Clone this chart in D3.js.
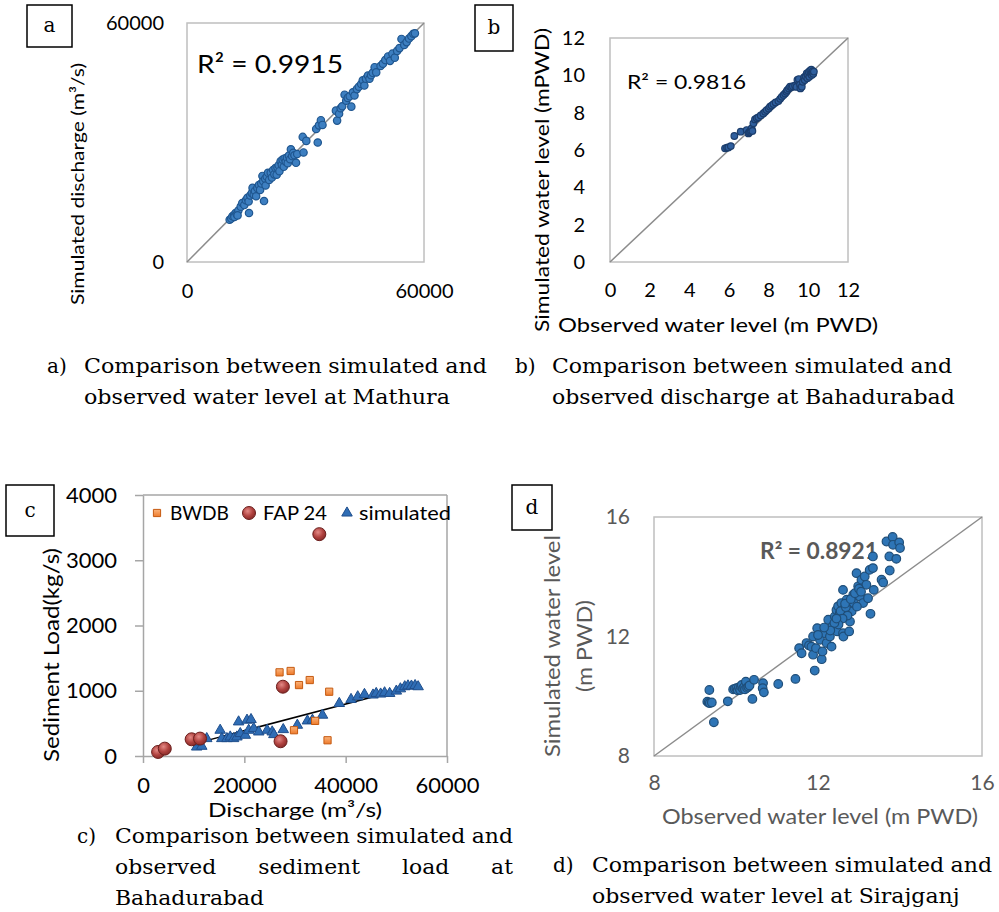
<!DOCTYPE html>
<html>
<head>
<meta charset="utf-8">
<title>Model comparison</title>
<script src="https://cdn.jsdelivr.net/npm/d3@7"></script>
<style>
body { margin: 0; background: #fff; }
text { font-family: Lato, "Open Sans", sans-serif; }
.cap { font-family: "DejaVu Serif", "Liberation Serif", serif; font-size: 20px; fill: #000; }
.tag { font-family: "DejaVu Serif", "Liberation Serif", serif; font-size: 20px; }
</style>
</head>
<body>
<script>

// ---- a) Mathura discharge [observed, simulated]
var dischargeA = [
  [10800,10600],[11200,10900],[11500,11500],[11900,11800],[12300,12300],[12000,11300],[12600,12000],
  [13000,12900],[12800,11700],[15700,12300],[13600,13900],[14000,14800],[14500,14300],[14900,15500],
  [15300,16100],[15600,15200],[16000,16700],[16400,17300],[16600,18600],[16900,16900],[17200,17800],
  [17500,16500],[17800,18600],[18200,19300],[18500,18100],[18800,19700],[19100,21600],[19300,20300],
  [19500,15300],[19800,20900],[19900,19200],[20200,21400],[20500,22400],[20800,20600],[21200,22400],
  [21500,21200],[21800,23100],[22100,22000],[22400,23600],[22700,21900],[22900,23700],[23200,24300],
  [23400,22800],[23700,25300],[24000,24400],[24200,25700],[24500,23900],[24700,26000],[25000,25200],
  [25300,26200],[25500,24800],[25800,26700],[26100,25800],[26300,28300],[26600,26600],[26900,27400],
  [27200,26800],[27600,24900],[27900,27100],[29300,31400],[29500,27500],[30200,30400],[32700,33400],
  [33100,30000],[33400,34300],[33900,35600],[34300,34400],[37700,38000],[38000,35500],[38500,37200],
  [38900,38600],[39300,39100],[39900,42000],[40300,40500],[40700,41200],[41200,41600],[41600,39000],
  [42000,42600],[42400,41800],[43000,43400],[43500,44000],[44100,44700],[44500,45600],[44900,44300],
  [45300,46000],[45800,46800],[46200,46000],[46600,46900],[47000,47500],[47500,48900],[47900,47600],
  [49000,49200],[49600,49800],[50200,50700],[50900,51600],[51400,50500],[52000,52300],[52600,51300],
  [53200,53000],[53800,53700],[54300,56000],[55000,54500],[55600,55200],[56200,56100],[56800,56700],
  [57300,57300],[57700,57400]
];
var ticksA = [0, 60000];
var r2A = "R\u00b2 = 0.9915";

// ---- b) Bahadurabad water level [observed, simulated]
var levelB = [
  [5.80,6.09],[5.90,6.12],[5.97,6.14],[6.09,6.21],[6.27,6.75],[6.59,6.98],[6.89,7.07],[6.98,6.89],
  [7.02,6.95],[7.06,6.98],[7.10,7.05],[7.14,7.16],[7.18,7.02],[7.23,7.43],[7.31,7.64],[7.40,7.70],
  [7.48,7.75],[7.60,7.85],[7.73,7.96],[7.82,8.05],[7.90,8.14],[8.00,8.22],[8.07,8.32],[8.15,8.38],
  [8.24,8.46],[8.35,8.55],[8.49,8.62],[8.58,8.74],[8.66,8.85],[8.75,8.95],[8.83,9.03],[8.90,9.12],
  [8.94,9.21],[9.02,9.30],[9.08,9.39],[9.15,9.36],[9.22,9.42],[9.33,9.45],[9.40,9.38],[9.45,9.75],
  [9.52,9.80],[9.58,9.50],[9.60,9.30],[9.67,9.39],[9.72,9.65],[9.78,9.89],[9.82,9.75],[9.86,9.95],
  [9.92,10.11],[9.95,9.85],[9.98,10.05],[10.02,10.18],[10.05,9.92],[10.09,10.25],[10.12,10.10],
  [10.15,10.30],[10.17,10.02],[10.20,10.15],[10.22,10.22],[10.25,10.08],[10.28,10.20]
];
var ticksB = [0, 2, 4, 6, 8, 10, 12];
var r2B = "R\u00b2 = 0.9816";

// ---- c) Bahadurabad sediment load [discharge, load]
var bwdb = [
  [26950,1282],[29140,1303],[30790,1087],[32910,1164],[36750,985],[29800,395],[33970,538],[36420,241]
];
var fap24 = [
  [2980,62],[4300,113],[9600,256],[11260,267],[27150,226],[27610,1062],[34800,3400]
];
var simulated = [
  [10600,138],[10900,215],[11600,149],[12580,267],[15230,395],[15560,267],[16560,267],[17220,292],
  [17880,267],[18540,292],[18870,523],[19200,344],[20200,318],[20530,549],[20860,395],[21320,559],
  [21850,421],[22850,369],[24500,395],[25500,369],[25830,328],[27680,405],[30460,472],[32450,538],
  [33440,549],[35430,626],[38740,805],[41060,867],[42380,908],[43710,944],[45400,935],[46030,959],
  [46900,950],[47680,969],[48680,959],[50000,995],[50800,1030],[51660,1062],[52300,1075],[52980,1072],
  [53700,1080],[54300,1062]
];
var trendC = [[10260,190],[54300,1087]];
var ticksCx = [0, 20000, 40000, 60000];
var ticksCy = [0, 1000, 2000, 3000, 4000];
var legendC = ["BWDB", "FAP 24", "simulated"];

// ---- d) Sirajganj water level [observed, simulated]
var levelD = [
  [9.35,10.21],[9.30,9.82],[9.33,9.78],[9.36,9.77],[9.41,9.79],[9.46,9.13],[9.80,9.83],[9.93,10.23],
  [9.97,10.25],[10.01,10.27],[10.04,10.20],[10.07,10.30],[10.10,10.21],[10.12,10.33],[10.14,10.38],
  [10.17,10.25],[10.20,10.31],[10.22,10.23],[10.24,10.49],[10.27,10.28],[10.30,10.32],[10.33,10.36],
  [10.40,9.91],[10.44,10.55],[10.66,10.44],[10.65,10.27],[10.68,10.13],[11.03,10.41],[11.45,10.58],
  [11.92,10.86],[11.54,11.61],[11.60,11.44],[11.72,11.78],[11.78,11.70],[11.84,11.66],[11.88,11.39],
  [11.95,11.61],[11.88,12.00],[11.98,12.28],[12.05,11.89],[12.09,11.24],[12.11,11.50],[12.17,12.11],
  [12.21,11.78],[12.25,12.56],[12.29,12.00],[12.33,11.66],[12.35,12.34],[12.41,12.67],[12.45,12.89],
  [12.47,12.17],[12.49,13.01],[12.53,12.78],[12.57,13.12],[12.61,12.11],[12.62,12.00],[12.65,12.95],
  [12.70,13.23],[12.74,13.06],[12.76,12.17],[12.78,12.50],[12.82,12.84],[12.86,13.40],[12.87,13.12],
  [12.61,13.56],[12.94,14.12],[12.98,13.68],[13.02,13.34],[13.06,13.90],[13.10,13.12],[13.14,14.01],
  [13.18,13.73],[13.22,13.28],[13.26,14.23],[13.28,12.76],[13.34,14.29],[13.36,13.56],[13.34,14.68],
  [13.55,13.90],[13.59,13.81],[13.75,14.21],[13.74,14.68],[13.67,15.18],[13.82,15.33],[13.83,15.07],
  [13.91,14.60],[13.98,15.15],[14.00,14.96],[12.55,12.85],[12.68,12.98],[12.72,12.70],[12.60,12.60],
  [12.50,12.40],[12.40,12.45],[12.30,12.20],[12.15,12.30],[12.00,12.05],[12.66,13.10],[12.80,13.25],
  [12.90,13.45],[13.00,13.60],[12.95,13.00],[13.05,13.50],[12.45,12.60]
];
var ticksD = [8, 12, 16];
var r2D = "R\u00b2 = 0.8921";

// ---- captions
var captions = [
  {tag: "a)", lines: ["Comparison between simulated and", "observed water level at Mathura"]},
  {tag: "b)", lines: ["Comparison between simulated and", "observed discharge at Bahadurabad"]},
  {tag: "c)", lines: ["Comparison between simulated and", "observed sediment load at", "Bahadurabad"]},
  {tag: "d)", lines: ["Comparison between simulated and", "observed water level at Sirajganj"]}
];

var svg = d3.select("body").append("svg")
    .attr("width", 999)
    .attr("height", 912)
    .style("background", "#fff");

var defs = svg.append("defs");
var gc = defs.append("radialGradient").attr("id", "fapGrad").attr("cx", "40%").attr("cy", "35%").attr("r", "65%");
gc.append("stop").attr("offset", "0%").attr("stop-color", "#e48a86");
gc.append("stop").attr("offset", "60%").attr("stop-color", "#b0423f");
gc.append("stop").attr("offset", "100%").attr("stop-color", "#8a2c2a");
var gs = defs.append("linearGradient").attr("id", "bwdbGrad").attr("x1", 0).attr("y1", 0).attr("x2", 0).attr("y2", 1);
gs.append("stop").attr("offset", "0%").attr("stop-color", "#fbb47c");
gs.append("stop").attr("offset", "100%").attr("stop-color", "#ee7a2a");

function frame(x, y) {
  svg.append("rect")
      .attr("x", x.range()[0])
      .attr("y", y.range()[1])
      .attr("width", x.range()[1] - x.range()[0])
      .attr("height", y.range()[0] - y.range()[1])
      .style("fill", "none")
      .style("stroke", "#bfbfbf")
      .style("stroke-width", 1.5);
}

function diagonal(x, y) {
  var d = x.domain();
  svg.append("line")
      .attr("x1", x(d[0])).attr("y1", y(d[0]))
      .attr("x2", x(d[1])).attr("y2", y(d[1]))
      .style("stroke", "#8c8c8c")
      .style("stroke-width", 1.5);
}

function plainAxes(x, y, ticks, size, color, padX, padY) {
  var gx = svg.append("g")
      .attr("transform", "translate(0," + y.range()[0] + ")")
      .call(d3.axisBottom(x).tickValues(ticks).tickSize(0).tickPadding(padX).tickFormat(d3.format("d")));
  var gy = svg.append("g")
      .attr("transform", "translate(" + x.range()[0] + ",0)")
      .call(d3.axisLeft(y).tickValues(ticks).tickSize(0).tickPadding(padY).tickFormat(d3.format("d")));
  [gx, gy].forEach(function(g) {
    g.select(".domain").remove();
    g.attr("font-family", null).attr("font-size", size);
    g.selectAll("text").style("fill", color);
  });
}

function dots(data, x, y, r, fill, stroke) {
  svg.append("g").selectAll("circle")
      .data(data)
      .enter().append("circle")
      .attr("cx", function(d) { return x(d[0]); })
      .attr("cy", function(d) { return y(d[1]); })
      .attr("r", r)
      .style("fill", fill)
      .style("stroke", stroke)
      .style("stroke-width", 1.2);
}

function tagBox(x, y, w, h, letter) {
  svg.append("rect").attr("x", x).attr("y", y).attr("width", w).attr("height", h)
      .style("fill", "none").style("stroke", "#000").style("stroke-width", 1.5);
  svg.append("text").attr("class", "tag")
      .attr("x", x + w / 2).attr("y", y + h / 2 + 6)
      .attr("text-anchor", "middle")
      .text(letter);
}

function rotLabel(cx, cy, str, size, color, len) {
  var t = svg.append("text")
      .attr("transform", "translate(" + cx + "," + cy + ") rotate(-90)")
      .attr("text-anchor", "middle")
      .attr("dy", "0.35em")
      .style("font-size", size + "px")
      .style("fill", color)
      .text(str);
  if (len) t.attr("textLength", len).attr("lengthAdjust", "spacingAndGlyphs");
  return t;
}

function label(x, y, str, size, color, anchor, len) {
  var t = svg.append("text")
      .attr("x", x).attr("y", y)
      .attr("text-anchor", anchor || "start")
      .style("font-size", size + "px")
      .style("fill", color)
      .text(str);
  if (len) t.attr("textLength", len).attr("lengthAdjust", "spacingAndGlyphs");
  return t;
}

// ================= panel a
var xA = d3.scaleLinear().domain([0, 60000]).range([187, 424]);
var yA = d3.scaleLinear().domain([0, 60000]).range([262, 23]);
frame(xA, yA);
diagonal(xA, yA);
plainAxes(xA, yA, ticksA, 20, "#000", 22, 23);
label(197, 73, r2A, 25, "#000", "start", 146);
dots(dischargeA, xA, yA, 3.7, "#3d7fc1", "#1f568f");
rotLabel(78, 184, "Simulated discharge (m\u00b3/s)", 18, "#000", 242);
tagBox(27, 5, 45, 42, "a");

// ================= panel b
var xB = d3.scaleLinear().domain([0, 12]).range([610, 848]);
var yB = d3.scaleLinear().domain([0, 12]).range([262, 38]);
frame(xB, yB);
diagonal(xB, yB);
plainAxes(xB, yB, ticksB, 20, "#000", 21, 25);
label(627, 89, r2B, 19, "#000", "start", 119);
dots(levelB, xB, yB, 3.3, "#2f5f9e", "#1b3d6c");
rotLabel(542, 180, "Simulated water level (mPWD)", 20, "#000", 304);
label(718, 332, "Observed water level (m PWD)", 20, "#000", "middle", 320);
tagBox(475, 5, 38, 46, "b");

// ================= panel c
var xC = d3.scaleLinear().domain([0, 60000]).range([143, 447]);
var yC = d3.scaleLinear().domain([0, 4000]).range([756, 495]);

svg.append("line").attr("x1", xC(0)).attr("x2", xC(60000)).attr("y1", yC(4000)).attr("y2", yC(4000))
    .style("stroke", "#a6a6a6").style("stroke-width", 1.5);
svg.append("line").attr("x1", xC(60000)).attr("x2", xC(60000)).attr("y1", yC(0)).attr("y2", yC(4000))
    .style("stroke", "#a6a6a6").style("stroke-width", 1.5);
var gcx = svg.append("g")
    .attr("transform", "translate(0," + yC(0) + ")")
    .call(d3.axisBottom(xC).tickValues(ticksCx).tickSizeInner(7).tickSizeOuter(0).tickPadding(14).tickFormat(d3.format("d")));
var gcy = svg.append("g")
    .attr("transform", "translate(" + xC(0) + ",0)")
    .call(d3.axisLeft(yC).tickValues(ticksCy).tickSizeInner(8).tickSizeOuter(0).tickPadding(18).tickFormat(d3.format("d")));
[gcx, gcy].forEach(function(g) {
  g.attr("font-family", null).attr("font-size", 22);
  g.select(".domain").style("stroke", "#a6a6a6").style("stroke-width", 1.5);
  g.selectAll(".tick line").style("stroke", "#a6a6a6").style("stroke-width", 1.5);
  g.selectAll("text").style("fill", "#000");
});

svg.append("line")
    .attr("x1", xC(trendC[0][0])).attr("y1", yC(trendC[0][1]))
    .attr("x2", xC(trendC[1][0])).attr("y2", yC(trendC[1][1]))
    .style("stroke", "#000").style("stroke-width", 1.5);

var tri = d3.symbol().type(d3.symbolTriangle).size(48);
var sq = d3.symbol().type(d3.symbolSquare).size(52);

svg.append("g").selectAll("path")
    .data(simulated)
    .enter().append("path")
    .attr("d", tri)
    .attr("transform", function(d) { return "translate(" + xC(d[0]) + "," + yC(d[1]) + ")"; })
    .style("fill", "#2f6db5")
    .style("stroke", "#1f4e8c")
    .style("stroke-width", 1);

svg.append("g").selectAll("path")
    .data(bwdb)
    .enter().append("path")
    .attr("d", sq)
    .attr("transform", function(d) { return "translate(" + xC(d[0]) + "," + yC(d[1]) + ")"; })
    .style("fill", "url(#bwdbGrad)")
    .style("stroke", "#c55a11")
    .style("stroke-width", 1);

svg.append("g").selectAll("circle")
    .data(fap24)
    .enter().append("circle")
    .attr("cx", function(d) { return xC(d[0]); })
    .attr("cy", function(d) { return yC(d[1]); })
    .attr("r", 6.5)
    .style("fill", "url(#fapGrad)")
    .style("stroke", "#6b1f1d")
    .style("stroke-width", 1);

// legend
svg.append("path").attr("d", sq).attr("transform", "translate(157,513)")
    .style("fill", "url(#bwdbGrad)").style("stroke", "#c55a11");
label(170, 520, legendC[0], 20, "#000", "start", 59);
svg.append("circle").attr("cx", 249).attr("cy", 513).attr("r", 6.5)
    .style("fill", "url(#fapGrad)").style("stroke", "#6b1f1d");
label(263, 520, legendC[1], 20, "#000", "start", 64);
svg.append("path").attr("d", tri).attr("transform", "translate(347,513)")
    .style("fill", "#2f6db5").style("stroke", "#1f4e8c");
label(359, 520, legendC[2], 20, "#000", "start", 92);

rotLabel(52, 655, "Sediment Load(kg/s)", 21, "#000", 214);
label(295, 817, "Discharge (m\u00b3/s)", 20, "#000", "middle", 174);
tagBox(6, 485, 48, 51, "c");

// ================= panel d
var xD = d3.scaleLinear().domain([8, 16]).range([654, 982]);
var yD = d3.scaleLinear().domain([8, 16]).range([756, 517]);
frame(xD, yD);
diagonal(xD, yD);
plainAxes(xD, yD, ticksD, 21, "#595959", 19, 24);
svg.append("text")
    .attr("x", 760).attr("y", 559)
    .style("font-size", "22px").style("font-weight", "bold").style("fill", "#595959")
    .attr("textLength", 118).attr("lengthAdjust", "spacingAndGlyphs")
    .text(r2D);
dots(levelD, xD, yD, 4.3, "#2e75b6", "#1f4e79");
rotLabel(553, 646, "Simulated water level", 21, "#595959", 222);
rotLabel(585, 646, "(m PWD)", 21, "#595959", 92);
label(820, 824, "Observed water level (m PWD)", 21, "#595959", "middle", 316);
tagBox(512, 485, 40, 45, "d");

// ================= captions
var capPos = [
  {tagX: 47, x: 84, w: 403, y: 373},
  {tagX: 515, x: 552, w: 400, y: 373},
  {tagX: 77, x: 115, w: 398, y: 843},
  {tagX: 553, x: 592, w: 400, y: 872}
];
var lineGap = 31;
var space = 6.5;

captions.forEach(function(c, i) {
  var p = capPos[i];
  svg.append("text").attr("class", "cap").attr("x", p.tagX).attr("y", p.y).text(c.tag);
  var f = 1;
  c.lines.forEach(function(line, j) {
    var y = p.y + j * lineGap;
    var last = j == c.lines.length - 1;
    var words = line.split(" ");
    var nodes = words.map(function(w) {
      return svg.append("text").attr("class", "cap").attr("y", y).text(w);
    });
    var widths = nodes.map(function(n) { return n.node().getComputedTextLength(); });
    // the first line is set at normal spacing, which gives the glyph stretch
    if (j == 0) f = (p.w - space * (words.length - 1)) / d3.sum(widths);
    var gap = last ? space : (p.w - f * d3.sum(widths)) / (words.length - 1);
    var cx = p.x;
    nodes.forEach(function(n, k) {
      n.attr("x", cx)
        .attr("textLength", widths[k] * f)
        .attr("lengthAdjust", "spacingAndGlyphs");
      cx += widths[k] * f + gap;
    });
  });
});

</script>
</body>
</html>
